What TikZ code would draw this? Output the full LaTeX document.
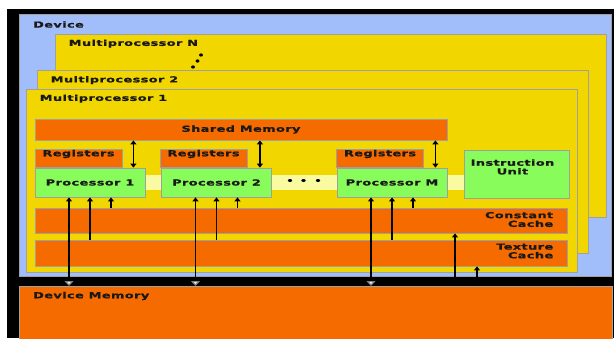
\documentclass[tikz,border=0pt]{standalone}
\usepackage{fontspec}
\usetikzlibrary{arrows.meta}
\newfontfamily\lblfont{DejaVu Sans}[FakeStretch=1.55,LetterSpace=5,BoldFeatures={FakeBold=1.2}]
\definecolor{devblue}{RGB}{162,190,250}
\definecolor{mpyellow}{RGB}{242,214,0}
\definecolor{memorange}{RGB}{246,107,0}
\definecolor{procgreen}{RGB}{136,252,90}
\definecolor{striplight}{RGB}{250,250,160}
\definecolor{edgegray}{RGB}{160,160,160}

\begin{document}
\begin{tikzpicture}[x=1pt,y=-1pt,
  box/.style={draw=edgegray,line width=0.8pt,inner sep=0pt},
  lbl/.style={font=\lblfont\bfseries\fontsize{8.3}{8.7}\selectfont,text=black!90,inner sep=0pt},
  arr/.style={line width=1.2pt,-{Triangle[length=4pt,width=6pt]}},
  dblarr/.style={line width=1.2pt,{Triangle[length=4pt,width=6pt]}-{Triangle[length=4pt,width=6pt]}},
  memarr/.style={line width=1.2pt,{Triangle[length=5pt,width=9pt,fill=white,color=gray]}-{Triangle[length=4pt,width=6pt]}}]
\useasboundingbox (0,0) rectangle (614,338);
\fill[white] (0,0) rectangle (614,338);
\fill[black] (7,9) rectangle (614,338);
% device and the stacked multiprocessors
\node[box,fill=devblue,minimum width=592pt,minimum height=262pt] (dev) at (315,145) {};
\node[lbl,anchor=west] (dev-t) at (33,24.5) {Device};
\foreach \n/\x/\y in {N/330.5/125.5,2/312.5/162,1/301.5/180.5}{
  \node[box,fill=mpyellow,minimum width=551pt,minimum height=183pt] (mp\n) at (\x,\y) {};
  \node[lbl,anchor=west] (mp\n-t) at ([xshift=14pt,yshift=-10pt]mp\n.north west) {Multiprocessor \n};
}
\foreach \px/\py in {201/55,197.5/61,193/67} \fill (\px,\py) ellipse (2 and 1.6);
% inside multiprocessor 1
\node[box,lbl,fill=memorange,minimum width=412pt,minimum height=21pt] (sm) at (241,129.5) {Shared Memory};
\foreach \i/\x in {1/78.5,2/203.5,M/380}{
  \node[box,fill=memorange,minimum width=87pt,minimum height=18pt] (reg\i) at (\x,158) {};
  \node[lbl] (reg\i-t) at ([yshift=4pt]reg\i.center) {Registers};
}
\fill[striplight] (145,175) rectangle (464,190);
\foreach \i/\x in {1/90,2/216.5,M/392}
  \node[box,lbl,fill=procgreen,minimum width=110pt,minimum height=29pt] (p\i) at (\x,182.5) {Processor \i};
\foreach \px in {290,303.5,318} \fill (\px,180.5) ellipse (2.2 and 1.5);
\node[box,fill=procgreen,minimum width=105pt,minimum height=48pt] (iu) at (516.5,174) {};
\node[lbl,align=center] (iu-t) at (512.5,167) {Instruction\\Unit};
\node[box,fill=memorange,minimum width=532pt,minimum height=25pt] (cc) at (301,220.5) {};
\node[lbl,align=right,anchor=east] (cc-t) at ([xshift=-14pt,yshift=1pt]cc.east) {Constant\\Cache};
\node[box,fill=memorange,minimum width=532pt,minimum height=26pt] (tc) at (301,253) {};
\node[lbl,align=right,anchor=east] (tc-t) at ([xshift=-14pt,yshift=2pt]tc.east) {Texture\\Cache};
% device memory
\node[box,fill=memorange,minimum width=593pt,minimum height=60pt,anchor=north west] (dm) at (19,286) {};
\node[lbl,anchor=west] (dm-t) at (33,296) {Device Memory};
% connections
\foreach \i in {1,2,M}{
  \draw[dblarr] ([xshift=-12pt]p\i.north east |- sm.south) -- ([xshift=-12pt]p\i.north east);
  \draw[memarr] ([xshift=-21pt]p\i.south |- dm.north) -- ([xshift=-21pt]p\i.south);
  \draw[arr] (p\i.south |- tc.north) -- (p\i.south);
  \draw[arr] ([xshift=21pt]p\i.south |- cc.north) -- ([xshift=21pt]p\i.south);
}
\coordinate (ccin) at (455,0);
\coordinate (tcin) at (477,0);
\draw[arr] (dm.north -| ccin) -- (cc.south -| ccin);
\draw[arr] (dm.north -| tcin) -- (tc.south -| tcin);
\end{tikzpicture}
\end{document}
